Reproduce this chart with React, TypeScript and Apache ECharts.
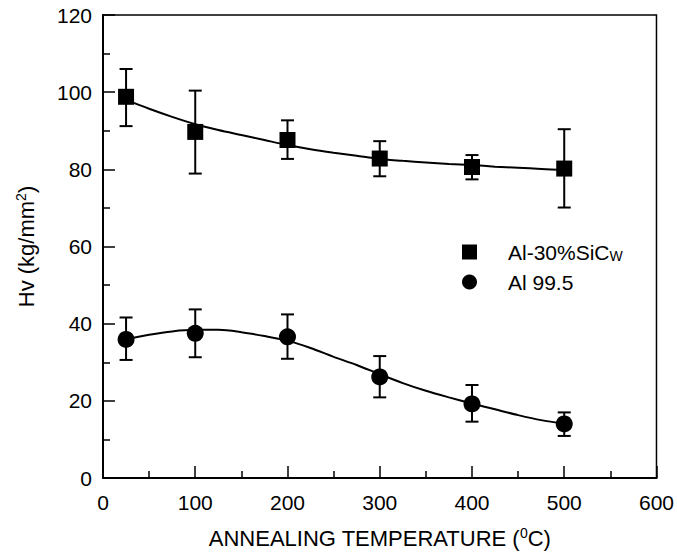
import React, { useEffect, useRef } from "react";
import * as echarts from "echarts";

// Measured points (annealing temperature, °C)
const temps = [25, 100, 200, 300, 400, 500];
// Al-30%SiCw
const sicMean = [98.8, 89.7, 87.6, 82.8, 80.6, 80.2];
const sicLow = [91.2, 78.9, 82.7, 78.2, 77.4, 70.1];
const sicHigh = [106.0, 100.4, 92.7, 87.3, 83.7, 90.4];
// Al 99.5
const alMean = [35.9, 37.5, 36.6, 26.2, 19.2, 14.0];
const alLow = [30.6, 31.3, 30.9, 20.9, 14.6, 10.9];
const alHigh = [41.6, 43.7, 42.4, 31.6, 24.1, 17.0];

// Fitted curves
const fitX = [25, 50, 75, 100, 125, 150, 175, 200, 225, 250, 275, 300, 325, 350, 375, 400, 425, 450, 475, 500];
const sicFitY = [98.0, 95.7, 93.6, 91.7, 90.2, 88.9, 87.6, 86.3, 85.2, 84.3, 83.5, 82.7, 82.2, 81.8, 81.4, 81.1, 80.7, 80.4, 80.1, 79.8];
const alFitY = [35.9, 37.1, 38.0, 38.4, 38.4, 37.8, 36.8, 35.6, 33.7, 31.4, 29.3, 26.9, 24.6, 22.6, 20.9, 19.3, 17.8, 16.3, 15.0, 14.1];

const FONT = "'Liberation Sans', Arial, Helvetica, sans-serif";

function errorBarRender(params: any, api: any) {
  const x = api.value(0);
  const lo = api.coord([x, api.value(1)]);
  const hi = api.coord([x, api.value(2)]);
  const half = 6.5;
  const style = { stroke: "#000", lineWidth: 2 };
  return {
    type: "group",
    children: [
      { type: "line", shape: { x1: lo[0], y1: lo[1], x2: hi[0], y2: hi[1] }, style },
      { type: "line", shape: { x1: hi[0] - half, y1: hi[1], x2: hi[0] + half, y2: hi[1] }, style },
      { type: "line", shape: { x1: lo[0] - half, y1: lo[1], x2: lo[0] + half, y2: lo[1] }, style },
    ],
  };
}

export default function App() {
  const ref = useRef<HTMLDivElement>(null);
  useEffect(() => {
    document.body.style.margin = "0";
    const chart = echarts.init(ref.current!, null, { renderer: "svg" });
    const sicErr = temps.map((t, i) => [t, sicLow[i], sicHigh[i]]);
    const alErr = temps.map((t, i) => [t, alLow[i], alHigh[i]]);
    chart.setOption({
      animation: false,
      backgroundColor: "#fff",
      textStyle: { fontFamily: FONT, color: "#000" },
      grid: {
        left: 103,
        right: 20,
        top: 15,
        bottom: 82,
        show: true,
        borderColor: "#000",
        borderWidth: 1.5,
      },
      legend: {
        orient: "vertical",
        left: 462,
        top: 237,
        padding: 0,
        itemWidth: 15,
        itemHeight: 15,
        itemGap: 8,
        data: [
          { name: "Al-30%SiCw", icon: "rect" },
          { name: "Al 99.5", icon: "circle" },
        ],
        formatter: (name: string) =>
          name === "Al-30%SiCw" ? "{a|Al-30%SiC}{sub|W}" : "{a|Al 99.5}",
        textStyle: {
          fontFamily: FONT,
          color: "#000",
          fontSize: 21,
          lineHeight: 22,
          padding: [0, 0, 0, 26],
          rich: {
            a: { fontFamily: FONT, fontSize: 21, color: "#000", lineHeight: 22 },
            sub: { fontFamily: FONT, fontSize: 14, color: "#000", lineHeight: 22, verticalAlign: "bottom", padding: [12, 0, 0, 0] },
          },
        },
      },
      xAxis: {
        type: "value",
        min: 0,
        max: 600,
        interval: 100,
        name: "{a|ANNEALING TEMPERATURE (}{sup|0}{a|C)}",
        nameLocation: "middle",
        nameGap: 48,
        nameTextStyle: {
          rich: {
            a: { fontFamily: FONT, fontSize: 22, color: "#000", lineHeight: 24 },
            sup: { fontFamily: FONT, fontSize: 14, color: "#000", verticalAlign: "top", lineHeight: 24, padding: [0, 0, 8, 0] },
          },
        },
        axisLine: { show: true, lineStyle: { color: "#000", width: 2 } },
        axisTick: { show: true, inside: true, length: 12, lineStyle: { color: "#000", width: 1.5 } },
        minorTick: { show: true, splitNumber: 2, length: 7, lineStyle: { color: "#000", width: 1.5 } },
        axisLabel: { fontFamily: FONT, fontSize: 21, color: "#000", margin: 14 },
        splitLine: { show: false },
      },
      yAxis: {
        type: "value",
        min: 0,
        max: 120,
        interval: 20,
        name: "{a|Hv (kg/mm}{sup|2}{a|)}",
        nameLocation: "middle",
        nameGap: 65,
        nameRotate: 90,
        nameTextStyle: {
          rich: {
            a: { fontFamily: FONT, fontSize: 22, color: "#000", lineHeight: 24 },
            sup: { fontFamily: FONT, fontSize: 14, color: "#000", verticalAlign: "top", lineHeight: 24, padding: [0, 0, 8, 0] },
          },
        },
        axisLine: { show: true, lineStyle: { color: "#000", width: 2 } },
        axisTick: { show: true, inside: true, length: 12, lineStyle: { color: "#000", width: 1.5 } },
        minorTick: { show: true, splitNumber: 2, length: 7, lineStyle: { color: "#000", width: 1.5 } },
        axisLabel: { fontFamily: FONT, fontSize: 21, color: "#000", margin: 11 },
        splitLine: { show: false },
      },
      series: [
        {
          name: "sicFit",
          type: "line",
          data: fitX.map((x, i) => [x, sicFitY[i]]),
          smooth: 0.3,
          showSymbol: false,
          symbol: "none",
          lineStyle: { color: "#000", width: 2 },
          silent: true,
          z: 1,
        },
        {
          name: "alFit",
          type: "line",
          data: fitX.map((x, i) => [x, alFitY[i]]),
          smooth: 0.3,
          showSymbol: false,
          symbol: "none",
          lineStyle: { color: "#000", width: 2 },
          silent: true,
          z: 1,
        },
        {
          name: "sicErr",
          type: "custom",
          renderItem: errorBarRender,
          data: sicErr,
          encode: { x: 0, y: [1, 2] },
          z: 2,
        },
        {
          name: "alErr",
          type: "custom",
          renderItem: errorBarRender,
          data: alErr,
          encode: { x: 0, y: [1, 2] },
          z: 2,
        },
        {
          name: "Al-30%SiCw",
          type: "scatter",
          symbol: "rect",
          symbolSize: 16,
          data: temps.map((t, i) => [t, sicMean[i]]),
          itemStyle: { color: "#000", opacity: 1 },
          z: 3,
        },
        {
          name: "Al 99.5",
          type: "scatter",
          symbol: "circle",
          symbolSize: 17,
          data: temps.map((t, i) => [t, alMean[i]]),
          itemStyle: { color: "#000", opacity: 1 },
          z: 3,
        },
      ],
    });
    return () => chart.dispose();
  }, []);
  return <div ref={ref} style={{ width: 677, height: 560 }} />;
}
